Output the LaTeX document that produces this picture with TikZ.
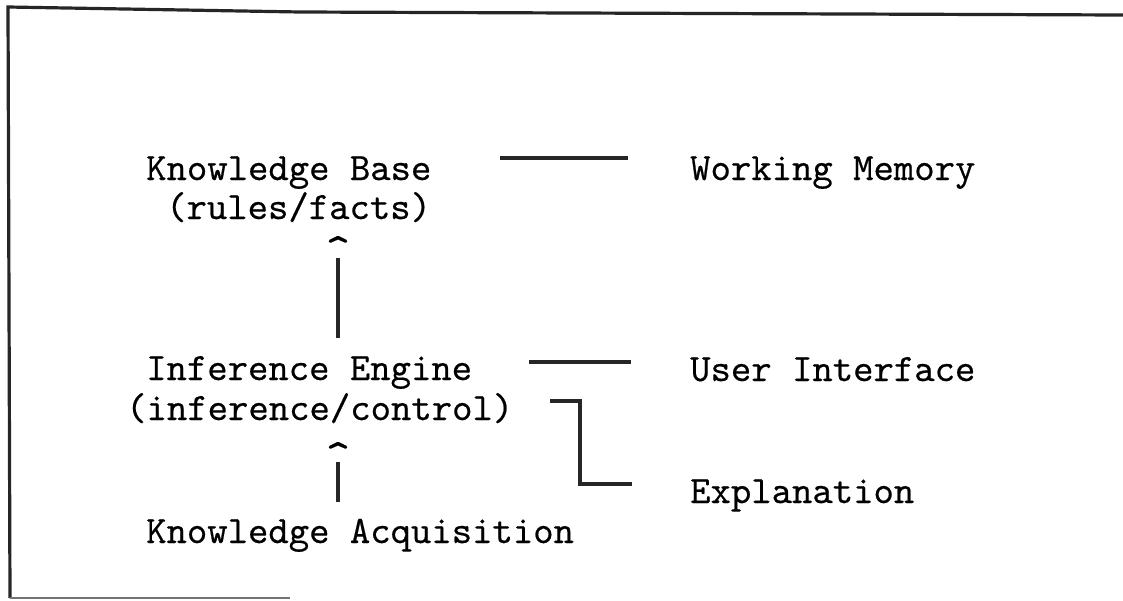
\documentclass[tikz,border=0pt]{standalone}
\usepackage{fontspec}
\newfontfamily\typewr{lmmono10-regular.otf}[FakeBold=0.45]
\begin{document}
\begin{tikzpicture}[x=1pt,y=-1pt,
  txt/.style={inner sep=0pt, anchor=base west, font=\typewr\fontsize{38.8}{41}\selectfont},
  hat/.style={inner sep=0pt, anchor=base, font=\typewr\fontsize{48}{48}\selectfont},
  conn/.style={line width=3.2pt, draw=black!85},
  frame/.style={line width=3.2pt, draw=black!85}]
\useasboundingbox (0,0) rectangle (1123,600);
% outer frame (open on the right)
\draw[frame] (1123,15) -- (300,12) -- (8,7) -- (10,598);
\draw[line width=1.8pt, draw=black!55] (10,598) -- (290,598);

% left column
\node[txt] (kb1) at (146,180) {Knowledge Base};
\node[txt] (kb2) at (166,219) {(rules/facts)};
\node[hat] (h1) at (338,266) {\textasciicircum};
\node[txt] (ie1) at (146,380) {Inference Engine};
\node[txt] (ie2) at (126,420) {(inference/control)};
\node[hat] (h2) at (338,472) {\textasciicircum};
\node[txt] (ka) at (146,543) {Knowledge Acquisition};

% right column
\node[txt] (wm) at (690,180) {Working Memory};
\node[txt] (ui) at (690,381) {User Interface};
\node[txt] (ex) at (690,503) {Explanation};

% vertical connectors below the carets
\coordinate (v1t) at (h1.south |- 0,258);
\coordinate (v1b) at (h1.south |- 0,338);
\draw[conn] (v1t) -- (v1b);
\coordinate (v2t) at (h2.south |- 0,462);
\coordinate (v2b) at (h2.south |- 0,502);
\draw[conn] (v2t) -- (v2b);

% horizontal connectors
\coordinate (wmL) at (500,158);
\coordinate (wmR) at (628,158);
\draw[conn] (wmL) -- (wmR);
\coordinate (uiL) at (529,362);
\coordinate (uiR) at (631,362);
\draw[conn] (uiL) -- (uiR);
\coordinate (exA) at (550,401);
\coordinate (exB) at (580,401);
\coordinate (exC) at (580,484);
\coordinate (exD) at (632,484);
\draw[conn] (exA) -- (exB) -- (exC) -- (exD);
\end{tikzpicture}
\end{document}
